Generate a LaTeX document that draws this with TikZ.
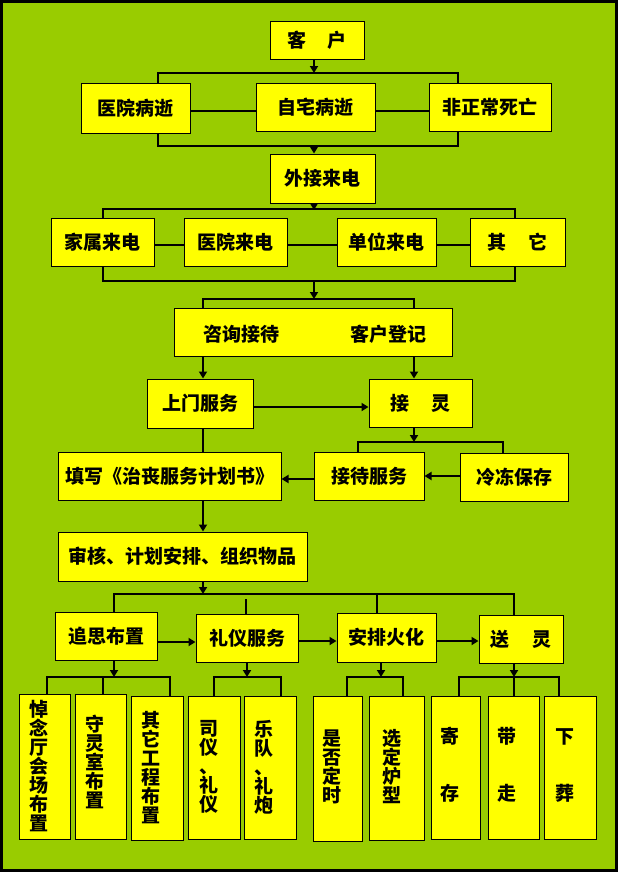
\documentclass[tikz,border=0pt]{standalone}
\usepackage{fontspec}
\setmainfont{Noto Sans CJK SC}
\usetikzlibrary{arrows.meta}
\definecolor{bggreen}{HTML}{99CC00}
\definecolor{boxyellow}{HTML}{FFFF00}
\newcommand\bx[6]{%
  \pgfmathsetmacro\mybw{#4-#2}\pgfmathsetmacro\mybh{#5-#3}%
  \pgfmathsetmacro\mycx{(#2+#4)/2}\pgfmathsetmacro\mycy{(#3+#5)/2}%
  \node[box,minimum width=\mybw pt,minimum height=\mybh pt] (#1) at (\mycx,\mycy) {#6};}
\begin{document}
\begin{tikzpicture}[x=1pt,y=-1pt,
  box/.style={draw=black,fill=boxyellow,line width=1pt,inner sep=0pt,
    font=\fontsize{19}{19}\selectfont\bfseries,align=center},
  txt/.style={inner sep=0pt,font=\fontsize{19}{19}\selectfont\bfseries,align=center},
  conn/.style={line width=2pt},
  arr/.style={line width=2pt,-{Triangle[length=7pt,width=8pt]}}]
\useasboundingbox (0,0) rectangle (619,873);
\fill[white] (0,0) rectangle (619,873);
\fill[bggreen] (1.5,1.5) rectangle (616,870.5);
\draw[line width=3pt] (1.5,1.5) rectangle (616,870.5);
% boxes
\bx{kh}{270}{21}{364}{59}{客\hspace{1.1em}户}
\bx{yybs}{81}{83}{190}{133}{医院病逝}
\bx{zzbs}{256}{83}{375}{131}{自宅病逝}
\bx{fzc}{429}{83}{551}{131}{非正常死亡}
\bx{wjld}{270}{154}{375}{203}{外接来电}
\bx{jsld}{51}{218}{154}{266}{家属来电}
\bx{yyld}{184}{218}{287}{266}{医院来电}
\bx{dwld}{337}{218}{436}{266}{单位来电}
\bx{qt}{470}{218}{565}{266}{其\hspace{1.2em}它}
\bx{zx}{174}{308}{452}{356}{}
\node[txt] (zxa) at (241,334) {咨询接待};
\node[txt] (zxb) at (388,334) {客户登记};
\bx{smfw}{147}{379}{253}{428}{上门服务}
\bx{jl}{369}{379}{472}{427}{接\hspace{1.2em}灵}
\bx{tx}{58}{452}{281}{500}{填写《治丧服务计划书》}
\bx{jdfw}{314}{452}{424}{500}{接待服务}
\bx{ldbc}{460}{453}{568}{501}{冷冻保存}
\bx{sh}{58}{532}{307}{581}{审核、计划安排、组织物品}
\bx{zs}{55}{612}{157}{660}{追思布置}
\bx{lyfw}{196}{614}{298}{662}{礼仪服务}
\bx{aphh}{337}{613}{436}{662}{安排火化}
\bx{sl}{479}{615}{563}{663}{送\hspace{1.2em}灵}
\bx{b1}{19}{694}{70}{839}{}
\bx{b2}{75}{694}{126}{839}{}
\bx{b3}{131}{696}{183}{840}{}
\bx{b4}{188}{696}{240}{839}{}
\bx{b5}{244}{696}{296}{839}{}
\bx{b6}{313}{696}{362}{841}{}
\bx{b7}{369}{696}{424}{840}{}
\bx{b8}{431}{696}{480}{839}{}
\bx{b9}{488}{696}{539}{839}{}
\bx{b10}{544}{696}{596}{839}{}
\node[txt] (t1) at (39,766) {悼\\念\\厅\\会\\场\\布\\置};
\node[txt] (t2) at (95,762) {守\\灵\\室\\布\\置};
\node[txt] (t3) at (151,768) {其\\它\\工\\程\\布\\置};
\node[txt] (t4) at (209,767) {司\\仪\\、\\礼\\仪};
\node[txt] (t5) at (264,767) {乐\\队\\、\\礼\\炮};
\node[txt] (t6) at (332,767) {是\\否\\定\\时};
\node[txt] (t7) at (392,767) {选\\定\\炉\\型};
\node[txt] (t8) at (449.5,765) {寄\\[38pt]存};
\node[txt] (t9) at (507,765) {带\\[38pt]走};
\node[txt] (t10) at (564.5,765) {下\\[38pt]葬};
% connectors
\draw[arr] (kh.south -| 314,0) -- (314,73);
\draw[conn] (yybs.north -| 158,0) -- (158,73) -- (458,73) -- (fzc.north -| 458,0);
\draw[conn] (yybs.east |- 0,111) -- (zzbs.west |- 0,111);
\draw[conn] (zzbs.east |- 0,111) -- (fzc.west |- 0,111);
\draw[conn] (yybs.south -| 158,0) -- (158,146) -- (458,146) -- (fzc.south -| 458,0);
\draw[arr] (314,146) -- (wjld.north -| 314,0);
\draw[arr] (wjld.south -| 314,0) -- (314,210);
\draw[conn] (jsld.north -| 103,0) -- (103,209) -- (515,209) -- (qt.north -| 515,0);
\draw[conn] (jsld.east |- 0,245) -- (yyld.west |- 0,245);
\draw[conn] (yyld.east |- 0,245) -- (dwld.west |- 0,245);
\draw[conn] (dwld.east |- 0,245) -- (qt.west |- 0,245);
\draw[conn] (jsld.south -| 103,0) -- (103,281) -- (515,281) -- (qt.south -| 515,0);
\draw[arr] (314,281) -- (314,299);
\draw[conn] (zx.north -| 203,0) -- (203,299) -- (414,299) -- (zx.north -| 414,0);
\draw[arr] (zx.south -| 203,0) -- (smfw.north -| 203,0);
\draw[arr] (zx.south -| 414,0) -- (jl.north -| 414,0);
\draw[arr] (smfw.east |- 0,407) -- (jl.west |- 0,407);
\draw[conn] (smfw.south -| 203,0) -- (tx.north -| 203,0);
\draw[arr] (jl.south -| 414,0) -- (414,442);
\draw[conn] (jdfw.north -| 358,0) -- (358,442) -- (503,442) -- (ldbc.north -| 503,0);
\draw[arr] (ldbc.west |- 0,476) -- (jdfw.east |- 0,476);
\draw[arr] (jdfw.west |- 0,479) -- (tx.east |- 0,479);
\draw[arr] (tx.south -| 203,0) -- (sh.north -| 203,0);
\draw[arr] (sh.south -| 203,0) -- (203,594);
\draw[conn] (zs.north -| 114,0) -- (114,594) -- (514,594) -- (sl.north -| 514,0);
\draw[conn] (377,594) -- (aphh.north -| 377,0);
\draw[conn] (246,599) -- (lyfw.north -| 246,0);
\draw[arr] (zs.east |- 0,642) -- (lyfw.west |- 0,642);
\draw[arr] (lyfw.east |- 0,641) -- (aphh.west |- 0,641);
\draw[arr] (aphh.east |- 0,641) -- (sl.west |- 0,641);
% lower brackets
\draw[arr] (zs.south -| 114,0) -- (114,677);
\draw[conn] (b1.north -| 47,0) -- (47,677) -- (170,677) -- (b3.north -| 170,0);
\draw[conn] (103,677) -- (b2.north -| 103,0);
\draw[arr] (lyfw.south -| 247,0) -- (247,677);
\draw[conn] (b4.north -| 214,0) -- (214,677) -- (281,677) -- (b5.north -| 281,0);
\draw[arr] (aphh.south -| 381,0) -- (381,677);
\draw[conn] (b6.north -| 347,0) -- (347,677) -- (403,677) -- (b7.north -| 403,0);
\draw[arr] (sl.south -| 514,0) -- (514,677);
\draw[conn] (b8.north -| 459,0) -- (459,677) -- (559,677) -- (b10.north -| 559,0);
\draw[conn] (514,677) -- (b9.north -| 514,0);
\end{tikzpicture}
\end{document}
